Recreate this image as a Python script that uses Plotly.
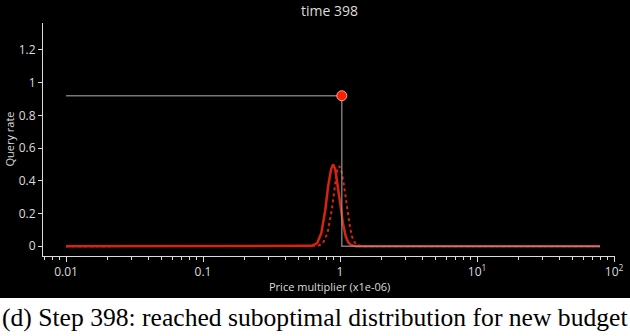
import plotly.graph_objects as go

# price multiplier (x1e-06) vs query rate
solid_x = [0.01, 0.3, 0.55, 0.62, 0.68, 0.73, 0.78, 0.82, 0.86, 0.89, 0.92, 0.96, 1.0, 1.05, 1.1, 1.15, 1.2, 1.3, 79]
solid_y = [0.0, 0.0, 0.0, 0.002, 0.017, 0.08, 0.22, 0.37, 0.47, 0.5, 0.475, 0.38, 0.27, 0.14, 0.06, 0.023, 0.008, 0.0, 0.0]

dash_x = [0.01, 0.3, 0.62, 0.69, 0.75, 0.81, 0.87, 0.91, 0.95, 0.99, 1.02, 1.07, 1.11, 1.17, 1.22, 1.28, 1.33, 1.44, 79]
dash_y = [0.0, 0.0, 0.0, 0.002, 0.017, 0.08, 0.22, 0.36, 0.46, 0.49, 0.465, 0.37, 0.26, 0.14, 0.06, 0.023, 0.008, 0.0, 0.0]

step_x = [0.01, 1.03, 1.03, 79]
step_y = [0.92, 0.92, 0.0, 0.0]

point_x = [1.03]
point_y = [0.92]

major_vals = [0.01, 0.1, 1, 10, 100]
major_text = ["0.01", "0.1", "1", "10<sup>1</sup>", "10<sup>2</sup>"]
minor_vals = [m * d for d in [0.001, 0.01, 0.1, 1, 10] for m in range(2, 10)]

red = "rgb(215,35,15)"
fg = "rgb(220,220,220)"

fig = go.Figure()
fig.add_trace(go.Scatter(x=solid_x, y=solid_y, mode="lines",
                         line=dict(color=red, width=2.5), hoverinfo="none"))
fig.add_trace(go.Scatter(x=dash_x, y=dash_y, mode="lines",
                         line=dict(color=red, width=2, dash="dot"), hoverinfo="none"))
fig.add_trace(go.Scatter(x=step_x, y=step_y, mode="lines",
                         line=dict(color="rgb(160,160,160)", width=1.5),
                         opacity=0.75, hoverinfo="none"))
fig.add_trace(go.Scatter(x=point_x, y=point_y, mode="markers",
                         marker=dict(color="rgb(255,30,0)", size=10,
                                     line=dict(color="rgb(255,160,150)", width=1)),
                         hoverinfo="none"))

tick_font = dict(family="Open Sans", size=12, color=fg)
label_font = dict(family="Open Sans", size=11, color=fg)

fig.update_layout(
    width=630, height=336,
    margin=dict(l=43, r=15, t=23, b=80),
    paper_bgcolor="black",
    plot_bgcolor="black",
    showlegend=False,
    font=tick_font,
    xaxis=dict(type="log", range=[-2.168, 2.007], automargin=False,
               tickvals=major_vals, ticktext=major_text,
               ticks="outside", ticklen=5, tickcolor=fg,
               minor=dict(tickvals=minor_vals, ticks="outside", ticklen=3, tickcolor=fg),
               showline=True, linecolor=fg, linewidth=1,
               showgrid=False, zeroline=False, tickfont=tick_font),
    yaxis=dict(range=[-0.06, 1.365], automargin=False,
               tickvals=[0, 0.2, 0.4, 0.6, 0.8, 1, 1.2],
               ticktext=["0", "0.2", "0.4", "0.6", "0.8", "1", "1.2"],
               ticks="outside", ticklen=4, tickcolor=fg,
               showline=True, linecolor=fg, linewidth=1,
               showgrid=False, zeroline=False, tickfont=tick_font),
    shapes=[dict(type="rect", xref="paper", yref="paper",
                 x0=-0.2, x1=1.2, y0=-0.45, y1=-0.18,
                 fillcolor="white", line=dict(width=0), layer="below")],
    annotations=[
        dict(text="time 398", xref="paper", yref="paper", x=0.5, y=1.0,
             yshift=13, showarrow=False, yanchor="middle",
             font=dict(family="Open Sans", size=14, color=fg)),
        dict(text="Price multiplier (x1e-06)", xref="paper", yref="paper",
             x=0.5, y=0, yshift=-30, showarrow=False, yanchor="middle",
             font=label_font),
        dict(text="Query rate", xref="paper", yref="paper", textangle=-90,
             x=0, xshift=-34, y=0.5, showarrow=False, xanchor="center",
             font=label_font),
        dict(text="(d) Step 398: reached suboptimal distribution for new budget",
             xref="paper", yref="paper", x=0.4755, y=-0.266,
             showarrow=False, yanchor="middle",
             font=dict(family="Liberation Serif", size=25.6, color="black")),
    ],
)

# the page body has a default 8px margin; drop it so the figure sits at the corner
fig.write_html("out.html", config={"displayModeBar": False},
               post_script="document.body.style.margin='0';")
